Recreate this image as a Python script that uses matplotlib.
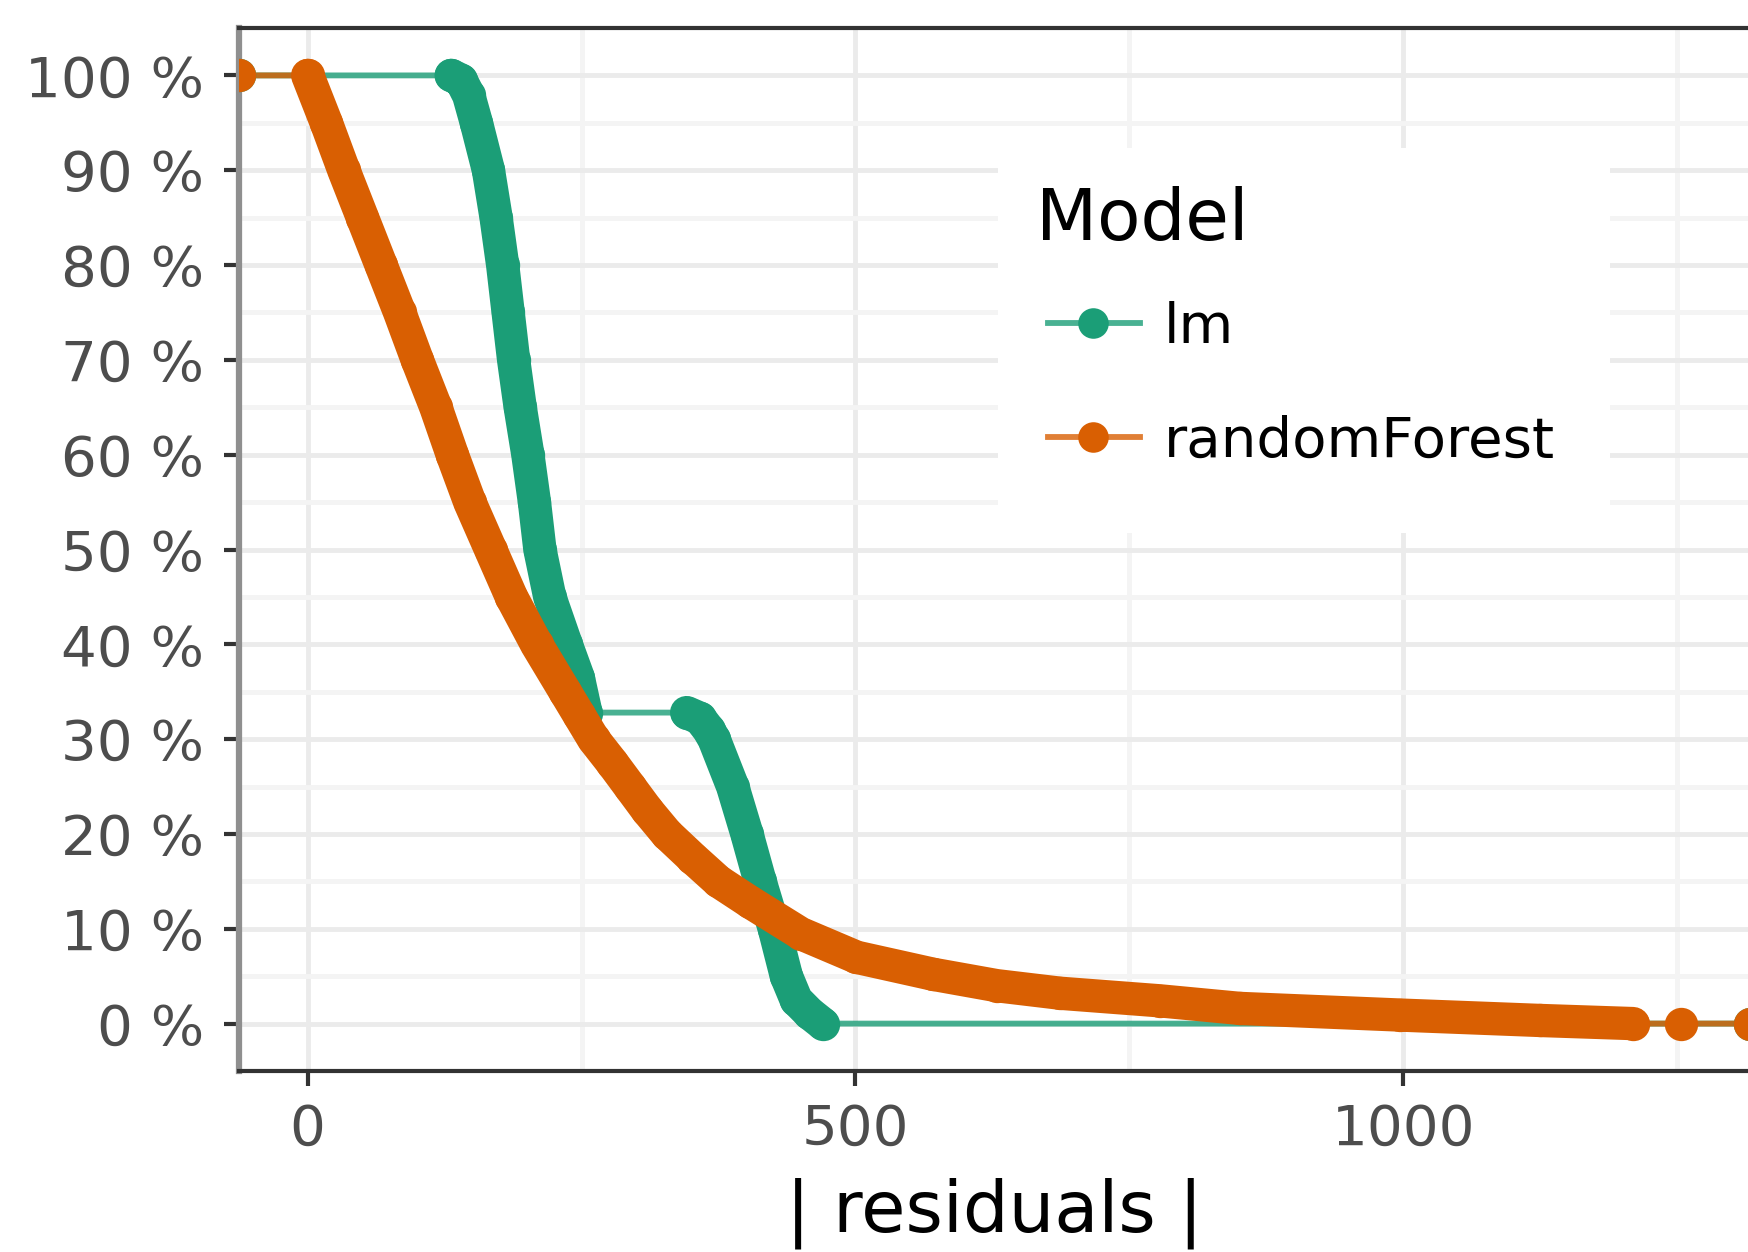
import numpy as np
import matplotlib
matplotlib.use("Agg")
import matplotlib.pyplot as plt
from matplotlib.lines import Line2D
from matplotlib.patches import Rectangle
from matplotlib.transforms import Affine2D

W_PX, H_PX = 1748, 1252

MODELS = ["lm", "randomForest"]
COLORS = ["#1b9e77", "#d95f02"]

# |residual| and share of observations with a larger |residual| (reverse ECDF)
lm_abs_resid = [131, 140, 147, 154, 165, 172, 178, 183, 188, 194, 201, 207, 212,
                221, 236, 247, 254,
                346, 358, 366, 371, 388, 401, 413, 426, 437, 446, 458, 470]
lm_share = [1.0, 0.995, 0.979, 0.95, 0.90, 0.85, 0.80, 0.75, 0.70, 0.65, 0.60, 0.55, 0.50,
            0.45, 0.40, 0.365, 0.328,
            0.328, 0.322, 0.31, 0.30, 0.25, 0.20, 0.15, 0.10, 0.05, 0.025, 0.011, 0.0]

rf_abs_resid = [0, 17, 33, 50, 67, 84, 100, 117, 132, 148, 167, 186, 209, 235, 248,
                261, 278, 294, 310, 328, 351, 375, 404, 450, 501, 571, 629, 687,
                778, 851, 997, 1125, 1210, 1254]
rf_share = [1.0, 0.95, 0.90, 0.85, 0.80, 0.75, 0.70, 0.65, 0.60, 0.55, 0.50, 0.45,
            0.40, 0.35, 0.325, 0.30, 0.275, 0.25, 0.225, 0.20, 0.175, 0.15, 0.128,
            0.095, 0.070, 0.052, 0.040, 0.032, 0.024, 0.016, 0.009, 0.0033, 0.0, 0.0]

x_ticks = [0, 500, 1000]
x_minor = [250, 750, 1250]
y_ticks = [0.0, 0.1, 0.2, 0.3, 0.4, 0.5, 0.6, 0.7, 0.8, 0.9, 1.0]
y_tick_labels = ["0 %", "10 %", "20 %", "30 %", "40 %", "50 %",
                 "60 %", "70 %", "80 %", "90 %", "100 %"]
y_minor = [0.05, 0.15, 0.25, 0.35, 0.45, 0.55, 0.65, 0.75, 0.85, 0.95]

series = [(lm_abs_resid, lm_share), (rf_abs_resid, rf_share)]

# ggplot-style 5% expansion of the data range
all_x = lm_abs_resid + rf_abs_resid
span = max(all_x) - min(all_x)
x_lo, x_hi = min(all_x) - 0.05 * span, max(all_x) + 0.05 * span

fig = plt.figure(figsize=(W_PX / 100, H_PX / 100), dpi=100)
left, right, top, bottom = 239, 1750, 28, 1071
ax = fig.add_axes([left / W_PX, 1 - bottom / H_PX,
                   (right - left) / W_PX, (bottom - top) / H_PX])
ax.set_xlim(x_lo, x_hi)
ax.set_ylim(-0.05, 1.05)

# grid
for v in x_ticks:
    ax.axvline(v, color="#ebebeb", lw=3.5, zorder=0)
for v in x_minor:
    ax.axvline(v, color="#f4f4f4", lw=3.5, zorder=0)
for v in y_ticks:
    ax.axhline(v, color="#ebebeb", lw=3.5, zorder=0)
for v in y_minor:
    ax.axhline(v, color="#f4f4f4", lw=3.5, zorder=0)

DOT = 24  # point diameter in pt

# connecting lines, padded out to the panel edges
for (xs, ys), col in zip(series, COLORS):
    sx = [x_lo] + list(xs) + [x_hi]
    sy = [1.0] + list(ys) + [0.0]
    ax.plot(sx, sy, color=col, lw=4.2, alpha=0.8, zorder=2)

# points: dense runs drawn as one thick round-capped stroke,
# a flat stretch between two points means an empty gap
for (xs, ys), col in zip(series, COLORS):
    xs = np.asarray(xs, float)
    ys = np.asarray(ys, float)
    breaks = np.where(np.diff(ys) == 0)[0] + 1
    for px, py in zip(np.split(xs, breaks), np.split(ys, breaks)):
        ax.plot(px, py, color=col, lw=DOT, solid_capstyle="round",
                solid_joinstyle="round", zorder=3)
    ax.plot(xs, ys, "o", color=col, ms=DOT, mew=0, zorder=3)
    ax.plot([x_lo, x_hi], [1.0, 0.0], "o", color=col, ms=DOT, mew=0, zorder=3)

ax.set_xticks(x_ticks)
ax.set_xticklabels([str(v) for v in x_ticks])
ax.set_yticks(y_ticks)
ax.set_yticklabels(y_tick_labels)
ax.tick_params(axis="both", length=11, width=3, color="#333333",
               labelsize=40.5, labelcolor="#4d4d4d")
ax.tick_params(axis="y", pad=14)
ax.tick_params(axis="x", pad=12)

for side in ["top", "bottom"]:
    ax.spines[side].set_color("#333333")
    ax.spines[side].set_linewidth(3)
ax.spines["left"].set_color("#8f8f8f")
ax.spines["left"].set_linewidth(4.5)
ax.spines["right"].set_visible(False)

ax.set_xlabel("| residuals |", fontsize=51.8, color="black", labelpad=15)

# legend, laid out in pixel coordinates
px = Affine2D().scale(1 / W_PX, -1 / H_PX).translate(0, 1) + fig.transFigure
fig.add_artist(Rectangle((998, 148), 612, 385, transform=px,
                         fc="white", ec="none", zorder=5))
fig.text(1036, 240, "Model", transform=px, fontsize=51, color="black",
         ha="left", va="baseline", zorder=6)
for i, (name, col) in enumerate(zip(MODELS, COLORS)):
    ky = 323 + i * 114
    fig.add_artist(Line2D([1048, 1140], [ky, ky], transform=px, color=col,
                          lw=4.2, alpha=0.8, zorder=6))
    fig.add_artist(Line2D([1093], [ky], transform=px, color=col, marker="o",
                          ms=22, mew=0, zorder=7))
    fig.text(1164, ky + 20, name, transform=px, fontsize=40.5, color="black",
             ha="left", va="baseline", zorder=6)

fig.savefig("out.png", dpi=100)
